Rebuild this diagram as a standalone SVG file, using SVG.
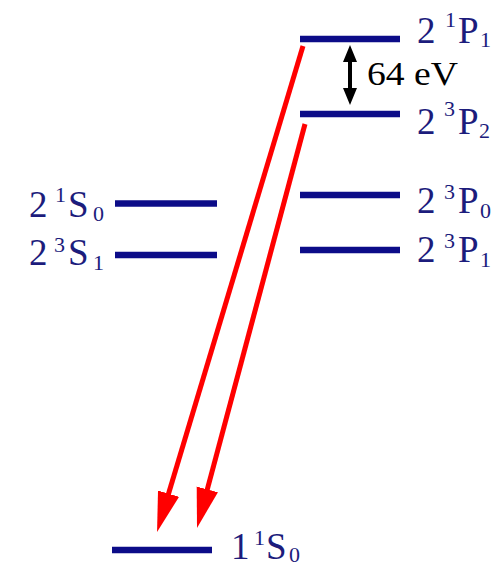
<svg xmlns="http://www.w3.org/2000/svg" width="504" height="568" viewBox="0 0 504 568">
<style>
.lvl{stroke:#0c0c88;stroke-width:6.5;fill:none}
.lbl{font-family:"Liberation Serif","Times New Roman",serif;font-size:37px;fill:#1c1c7c}
.sm{font-size:22px}
.red{stroke:#ff0000;stroke-width:5;fill:none}
.ev{font-family:"Liberation Serif","Times New Roman",serif;font-size:34px;fill:#000}
</style>
<defs>
<marker id="rh" markerUnits="userSpaceOnUse" markerWidth="44" markerHeight="26" viewBox="0 -13 44 26" refX="4" refY="0" orient="auto">
<path d="M0,-11 L40,0 L0,11 Z" fill="#ff0000"/>
</marker>
</defs>
<rect width="504" height="568" fill="#fff"/>
<g id="connectors">
<line class="red" x1="303" y1="46" x2="167.4" y2="497.5" marker-end="url(#rh)"/>
<line class="red" x1="305" y1="124" x2="206.3" y2="493.2" marker-end="url(#rh)"/>
</g>
<g id="level-21P1">
<line class="lvl" x1="300" y1="39" x2="400" y2="39"/>
<text class="lbl"><tspan x="417" y="43">2</tspan><tspan class="sm" x="445" y="27">1</tspan><tspan x="458" y="43">P</tspan><tspan class="sm" x="480" y="47">1</tspan></text>
</g>
<g id="gap">
<line x1="350" y1="58" x2="350" y2="95" stroke="#000" stroke-width="4"/>
<path d="M350,45 L357,62 L343,62 Z M350,105 L357,88 L343,88 Z" fill="#000"/>
<text class="ev" x="367" y="85" textLength="91" lengthAdjust="spacingAndGlyphs">64 eV</text>
</g>
<g id="level-23P2">
<line class="lvl" x1="300" y1="114" x2="400" y2="114"/>
<text class="lbl"><tspan x="417" y="134">2</tspan><tspan class="sm" x="444" y="116">3</tspan><tspan x="458" y="134">P</tspan><tspan class="sm" x="479" y="138">2</tspan></text>
</g>
<g id="level-23P0">
<line class="lvl" x1="300" y1="195" x2="400" y2="195"/>
<text class="lbl"><tspan x="417" y="213">2</tspan><tspan class="sm" x="444" y="199">3</tspan><tspan x="458" y="213">P</tspan><tspan class="sm" x="480" y="218">0</tspan></text>
</g>
<g id="level-23P1">
<line class="lvl" x1="300" y1="250" x2="400" y2="250"/>
<text class="lbl"><tspan x="417" y="262">2</tspan><tspan class="sm" x="444" y="248">3</tspan><tspan x="458" y="262">P</tspan><tspan class="sm" x="480" y="267">1</tspan></text>
</g>
<g id="level-21S0">
<line class="lvl" x1="115" y1="203.5" x2="217" y2="203.5"/>
<text class="lbl"><tspan x="29" y="217">2</tspan><tspan class="sm" x="55" y="202">1</tspan><tspan x="68" y="217">S</tspan><tspan class="sm" x="93" y="221">0</tspan></text>
</g>
<g id="level-23S1">
<line class="lvl" x1="115" y1="255" x2="217" y2="255"/>
<text class="lbl"><tspan x="29" y="265">2</tspan><tspan class="sm" x="54" y="252">3</tspan><tspan x="68" y="265">S</tspan><tspan class="sm" x="93" y="270">1</tspan></text>
</g>
<g id="level-11S0">
<line class="lvl" x1="112" y1="550" x2="212" y2="550"/>
<text class="lbl"><tspan x="231" y="559">1</tspan><tspan class="sm" x="254" y="545">1</tspan><tspan x="266" y="559">S</tspan><tspan class="sm" x="289" y="562">0</tspan></text>
</g>
</svg>
